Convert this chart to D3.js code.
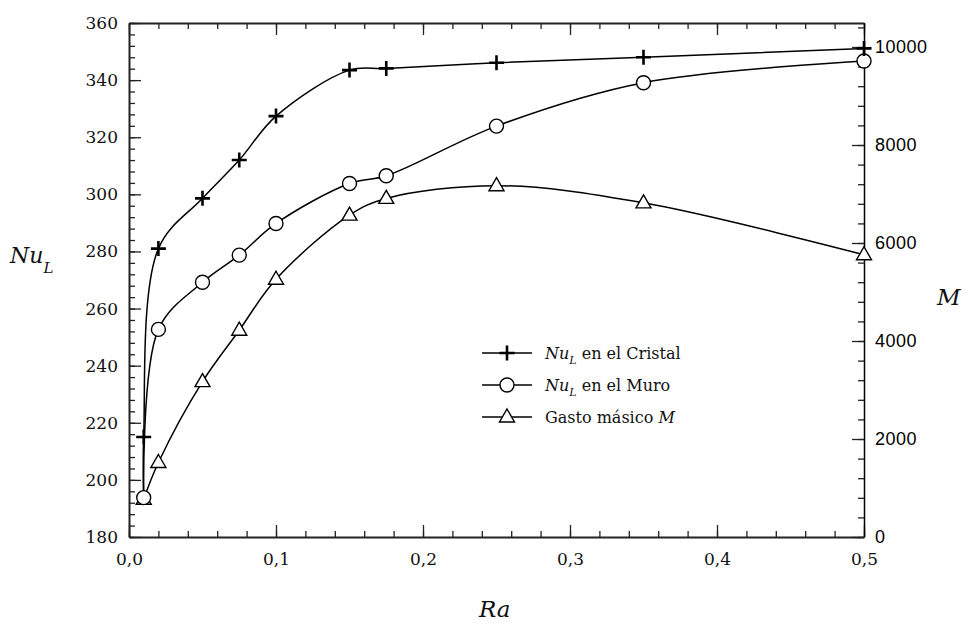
<!DOCTYPE html>
<html>
<head>
<meta charset="utf-8">
<script src="https://cdn.jsdelivr.net/npm/d3@7"></script>
<style>
  body { margin: 0; background: #fff; }
  svg { display: block; }
</style>
</head>
<body>
<div id="graph"></div>
<script>
// datos
const raValues = [0.01, 0.02, 0.05, 0.075, 0.1, 0.15, 0.175, 0.25, 0.35, 0.5];
const nuCristal = [215, 281, 298.6, 312, 327.4, 343.5, 344.1, 346.1, 348, 351.1];
const nuMuro = [193.8, 252.7, 269.2, 278.7, 289.8, 303.8, 306.5, 323.9, 339.1, 346.7];
const gastoM = [770, 1520, 3170, 4220, 5260, 6570, 6910, 7170, 6820, 5760];
// punto inicial de la curva del cristal (sin marcador, tapado por el circulo)
const cristalStart = [0.01, 193.5];

const xTicks = [0, 0.1, 0.2, 0.3, 0.4, 0.5];
const yLeftTicks = [180, 200, 220, 240, 260, 280, 300, 320, 340, 360];
const yRightTicks = [0, 2000, 4000, 6000, 8000, 10000];
const legendLabels = [
    ['Nu', 'L', ' en el Cristal'],
    ['Nu', 'L', ' en el Muro'],
    ['', '', 'Gasto másico ']
];

const SERIF = 'DejaVu Serif, serif';
const SANS = 'Liberation Sans, Arial, sans-serif';

const svgWidth = 966;
const svgHeight = 625;
const plotLeft = 129, plotRight = 864, plotTop = 23, plotBottom = 537;

const svg = d3.select('#graph')
.append('svg')
.attr('width', svgWidth)
.attr('height', svgHeight);

const x = d3.scaleLinear().domain([0, 0.5]).range([plotLeft, plotRight]);
const yL = d3.scaleLinear().domain([180, 360]).range([plotBottom, plotTop]);
const yR = d3.scaleLinear().domain([0, 10490]).range([plotBottom, plotTop]);

const commaFmt = d => d3.format('.1f')(d).replace('.', ',');

// Eje X abajo
svg.append('g')
.attr('transform', `translate(0, ${plotBottom})`)
.call(d3.axisBottom(x).tickValues(d3.range(0, 0.5001, 0.02)).tickSize(-6).tickFormat(''))
.call(g => g.select('.domain').remove());

const xAxisG = svg.append('g')
.attr('transform', `translate(0, ${plotBottom})`)
.call(d3.axisBottom(x).tickValues(xTicks).tickSize(-12).tickSizeOuter(0).tickPadding(16).tickFormat(commaFmt));

// Eje X arriba
svg.append('g')
.attr('transform', `translate(0, ${plotTop})`)
.call(d3.axisTop(x).tickValues(d3.range(0, 0.5001, 0.02)).tickSize(-6).tickFormat(''))
.call(g => g.select('.domain').remove());

svg.append('g')
.attr('transform', `translate(0, ${plotTop})`)
.call(d3.axisTop(x).tickValues(xTicks).tickSize(-12).tickSizeOuter(0).tickFormat(''));

// Eje Y izquierdo
svg.append('g')
.attr('transform', `translate(${plotLeft}, 0)`)
.call(d3.axisLeft(yL).tickValues(d3.range(180, 360.1, 4)).tickSize(-6).tickFormat(''))
.call(g => g.select('.domain').remove());

const yLeftG = svg.append('g')
.attr('transform', `translate(${plotLeft}, 0)`)
.call(d3.axisLeft(yL).tickValues(yLeftTicks).tickSize(-12).tickSizeOuter(0).tickPadding(11).tickFormat(d3.format('d')));

// Eje Y derecho (M)
svg.append('g')
.attr('transform', `translate(${plotRight}, 0)`)
.call(d3.axisRight(yR).tickValues(d3.range(0, 10490, 400)).tickSize(-6).tickFormat(''))
.call(g => g.select('.domain').remove());

const yRightG = svg.append('g')
.attr('transform', `translate(${plotRight}, 0)`)
.call(d3.axisRight(yR).tickValues(yRightTicks).tickSize(-12).tickSizeOuter(0).tickPadding(11).tickFormat(d3.format('d')));

svg.selectAll('.tick line').attr('stroke', '#222').attr('stroke-width', 1.3);
svg.selectAll('.domain').attr('stroke', '#222').attr('stroke-width', 2);
yRightG.select('.domain').attr('stroke', '#000').attr('stroke-width', 1.5);

xAxisG.attr('font-family', SERIF).attr('font-size', 17);
xAxisG.selectAll('text').attr('fill', '#111');
yLeftG.attr('font-family', SERIF).attr('font-size', 17);
yLeftG.selectAll('text').attr('fill', '#111');
yRightG.attr('font-family', SANS).attr('font-size', 18);
yRightG.selectAll('text').attr('fill', '#000').style('letter-spacing', '0.5px');

// Curvas
const curve = d3.curveCatmullRom.alpha(0.5);

const cristalPts = [[cristalStart[0], cristalStart[1]]].concat(raValues.map((r, i) => [r, nuCristal[i]]));
const muroPts = raValues.map((r, i) => [r, nuMuro[i]]);
const gastoPts = raValues.map((r, i) => [r, gastoM[i]]);

const lineL = d3.line().x(d => x(d[0])).y(d => yL(d[1])).curve(curve);
const lineR = d3.line().x(d => x(d[0])).y(d => yR(d[1])).curve(curve);

svg.append('path').attr('d', lineL(cristalPts)).attr('fill', 'none').attr('stroke', '#000').attr('stroke-width', 1.5);
svg.append('path').attr('d', lineL(muroPts)).attr('fill', 'none').attr('stroke', '#000').attr('stroke-width', 1.5);
svg.append('path').attr('d', lineR(gastoPts)).attr('fill', 'none').attr('stroke', '#000').attr('stroke-width', 1.5);

// Marcadores
const crossPath = 'M-7.5,0H7.5M0,-7.5V7.5';
const triPath = 'M0,-8L7.5,5L-7.5,5Z';

function drawCross(g, px, py) {
    g.append('path').attr('d', crossPath).attr('transform', `translate(${px},${py})`)
    .attr('stroke', '#000').attr('stroke-width', 2.6).attr('fill', 'none');
}
function drawCircle(g, px, py) {
    g.append('circle').attr('cx', px).attr('cy', py).attr('r', 7)
    .attr('fill', '#fff').attr('stroke', '#000').attr('stroke-width', 1.4);
}
function drawTri(g, px, py) {
    g.append('path').attr('d', triPath).attr('transform', `translate(${px},${py})`)
    .attr('fill', '#fff').attr('stroke', '#000').attr('stroke-width', 1.4);
}

const marks = svg.append('g');
gastoPts.forEach(d => drawTri(marks, x(d[0]), yR(d[1])));
muroPts.forEach(d => drawCircle(marks, x(d[0]), yL(d[1])));
raValues.forEach((r, i) => drawCross(marks, x(r), yL(nuCristal[i])));

// Leyenda
const legend = svg.append('g').attr('font-family', SERIF).attr('font-size', 16);
const legendY = [353, 385, 417];
const drawers = [drawCross, drawCircle, drawTri];
legendLabels.forEach((lab, i) => {
    const ly = legendY[i];
    legend.append('line').attr('x1', 482).attr('x2', 532).attr('y1', ly).attr('y2', ly)
    .attr('stroke', '#000').attr('stroke-width', 1.5);
    drawers[i](legend, 507, ly);
    const t = legend.append('text').attr('x', 545).attr('y', ly + 6).attr('fill', '#111');
    if (lab[0]) {
        t.append('tspan').attr('font-style', 'italic').text(lab[0]);
        t.append('tspan').attr('font-style', 'italic').attr('font-size', 11).attr('dy', 5).text(lab[1]);
        t.append('tspan').attr('dy', -5).text(lab[2]);
    } else {
        t.append('tspan').text(lab[2]);
        t.append('tspan').attr('font-style', 'italic').text('M');
    }
});

// Titulos de ejes
const nuTitle = svg.append('text').attr('x', 10).attr('y', 263)
.attr('font-family', SERIF).attr('font-size', 22).attr('font-style', 'italic').attr('fill', '#111');
nuTitle.append('tspan').text('Nu');
nuTitle.append('tspan').attr('font-size', 15).attr('dy', 10).text('L');

svg.append('text').attr('x', 937).attr('y', 305)
.attr('font-family', SERIF).attr('font-size', 23).attr('font-style', 'italic').attr('fill', '#111').text('M');

svg.append('text').attr('x', 479).attr('y', 617)
.attr('font-family', SERIF).attr('font-size', 23).attr('font-style', 'italic').attr('fill', '#111').text('Ra');
</script>
</body>
</html>
